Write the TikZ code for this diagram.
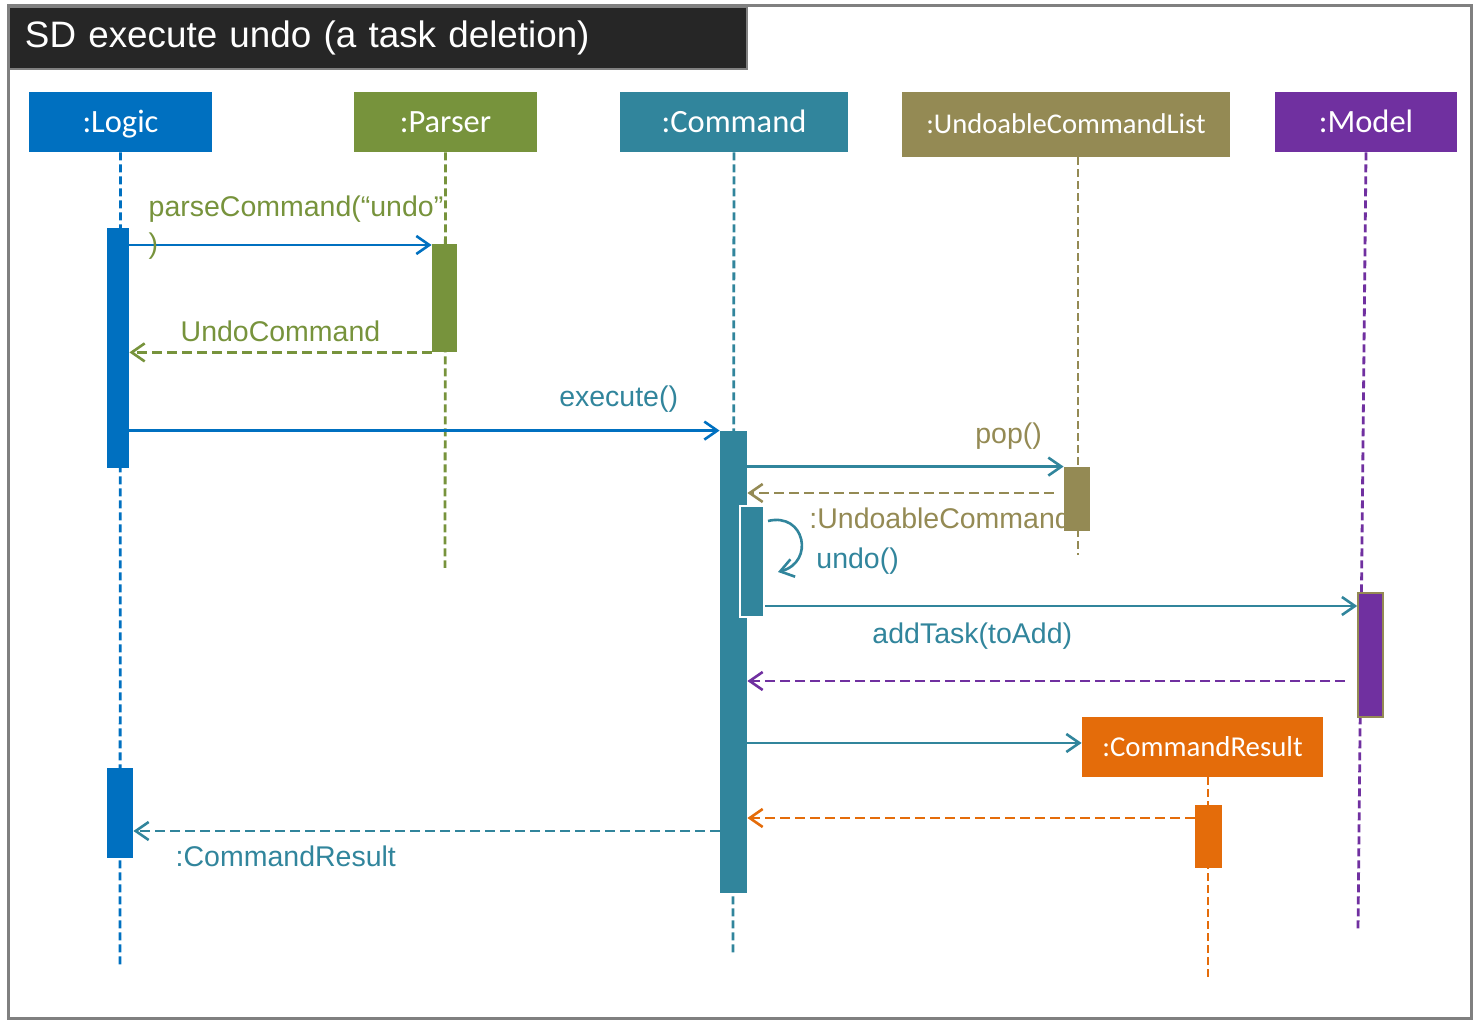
\documentclass[tikz,border=0pt]{standalone}
\usepackage{fontspec}
\setmainfont{Liberation Sans}
\newfontfamily\boxfont{Carlito}
\usetikzlibrary{arrows.meta}
\usetikzlibrary{fit}
\usetikzlibrary{backgrounds}
\definecolor{logicblue}{HTML}{0070C0}
\definecolor{parsergreen}{HTML}{77933C}
\definecolor{cmdteal}{HTML}{31859C}
\definecolor{uclolive}{HTML}{948A54}
\definecolor{modelpurple}{HTML}{7030A0}
\definecolor{resorange}{HTML}{E46C0A}
\definecolor{titleblack}{HTML}{262626}
\definecolor{framegray}{HTML}{808080}

\begin{document}
\begin{tikzpicture}[x=0.5pt,y=-0.5pt,>={Straight Barb[length=6.5pt,width=9pt]},
		head/.style={rectangle,inner sep=0pt,text=white,minimum height=30pt,text height=10.5pt,text depth=0pt,font=\boxfont\fontsize{16.25}{18}\selectfont},
		act/.style={rectangle,inner sep=0pt},
		life/.style={line width=1.4pt,dash pattern=on 4pt off 2pt},
		call/.style={line width=1.3pt,->},
		reply/.style={line width=1.3pt,->,dash pattern=on 5pt off 2.5pt},
		msg/.style={inner sep=0pt,font=\fontsize{14.25}{18.5}\selectfont}]
		\useasboundingbox (0,0) rectangle (1473,1020);
		\draw[framegray,line width=1.5pt] (8,6) rectangle (1471,1018);
		\node[anchor=north west,fill=titleblack,draw=framegray,line width=1pt,minimum width=369pt,minimum height=31pt,
			inner xsep=8pt,text width=353pt,align=left,text=white,font=\fontsize{18.4}{22}\selectfont] (title) at (8,6) {SD execute undo (a task deletion)};
		
		% lifeline heads
		\node[head,fill=logicblue,minimum width=91.5pt]   (logic)   at (120.5,122) {:Logic};
		\node[head,fill=parsergreen,minimum width=91.5pt] (parser)  at (445.5,122) {:Parser};
		\node[head,fill=cmdteal,minimum width=114pt]      (command) at (734,122)   {:Command};
		\node[head,fill=uclolive,minimum width=164pt,minimum height=32.5pt,text height=9.2pt,font=\boxfont\fontsize{14.3}{16}\selectfont] (ucl) at (1066,124.5) {:UndoableCommandList};
		\node[head,fill=modelpurple,minimum width=91pt]   (model)   at (1366,122)  {:Model};
		\node[head,fill=resorange,minimum width=120.5pt,text height=9.3pt,font=\boxfont\fontsize{14.4}{16}\selectfont] (result) at (1202.5,747) {:CommandResult};
		
		\coordinate (logicend)   at (120,965);
		\coordinate (parserend)  at (445,568);
		\coordinate (commandend) at (733,955);
		\coordinate (uclend)     at (1078,555);
		\coordinate (modelend)   at (1358,930);
		\coordinate (resultend)  at (1208,980);
		
		% activations
		\node[act,fill=logicblue,fit={(107,228) (129,468)}]   (la1) {};
		\node[act,fill=logicblue,fit={(107,768) (133,858)}]   (la2) {};
		\node[act,fill=parsergreen,fit={(432,244) (457,352)}] (pa)  {};
		\node[act,fill=cmdteal,fit={(720,431) (747,893)}]     (ca)  {};
		\node[act,fill=cmdteal,draw=white,line width=1pt,fit={(740,506) (764,617)}] (cn) {};
		\node[act,fill=uclolive,fit={(1064,467) (1090,531)}]  (ua)  {};
		\node[act,fill=modelpurple,draw=uclolive,line width=0.8pt,fit={(1358,593) (1383,717)}] (ma) {};
		\node[act,fill=resorange,fit={(1195,805) (1222,868)}] (ra)  {};
		
		\coordinate (undostart) at (768,521);
		\coordinate (undoend)   at (778,572);
		
		\begin{scope}[on background layer]
		\draw[life,logicblue]   (logic.south) -- (logicend);
		\draw[life,parsergreen] (parser.south) -- (parserend);
		\draw[life,cmdteal]     (command.south) -- (commandend);
		\draw[life,uclolive]    (ucl.south -| uclend) -- (uclend);
		\draw[life,modelpurple] (model.south) -- (modelend);
		\draw[life,resorange]   (result.south -| resultend) -- (resultend);
		
		\path
		(la1.east |- 0,245) edge[call,logicblue]
			node[msg,anchor=west,pos=0,xshift=9pt,yshift=8.5pt,align=left,text=parsergreen] {parseCommand(“undo”\\)} (pa.west |- 0,245)
		(pa.south west) edge[reply,parsergreen]
			node[msg,midway,yshift=10.5pt,text=parsergreen] {UndoCommand} (la1.east |- pa.south)
		(la1.east |- ca.north) edge[call,logicblue]
			node[msg,pos=0.829,yshift=15.5pt,text=cmdteal] {execute()} (ca.north west)
		(ca.east |- ua.north) edge[call,cmdteal]
			node[msg,pos=0.826,yshift=15pt,text=uclolive] {pop()} (ua.north west)
		(ua.west |- 0,493) edge[reply,uclolive,shorten <=5pt]
			node[msg,anchor=west,pos=0.808,yshift=-12.5pt,text=uclolive] {:UndoableCommand} (ca.east |- 0,493)
		(cn.east |- 0,606) edge[call,cmdteal]
			node[msg,pos=0.35,yshift=-15pt,text=cmdteal] {addTask(toAdd)} (ma.west |- 0,606)
		(ma.west |- 0,681) edge[reply,modelpurple,shorten <=6pt] (ca.east |- 0,681)
		(ca.east |- 0,743) edge[call,cmdteal] (result.west |- 0,743)
		(ra.west |- 0,818) edge[reply,resorange] (ca.east |- 0,818)
		(ca.west |- 0,831) edge[reply,cmdteal]
			node[msg,anchor=west,pos=0.93,yshift=-12.5pt,text=cmdteal] {:CommandResult} (la2.east |- 0,831);
		
		\draw[call,cmdteal] (undostart) .. controls (805,512) and (815,562) .. (undoend);
		\end{scope}
		\node[msg,anchor=west,text=cmdteal] (undolabel) at (816,561) {undo()};
\end{tikzpicture}
\end{document}
